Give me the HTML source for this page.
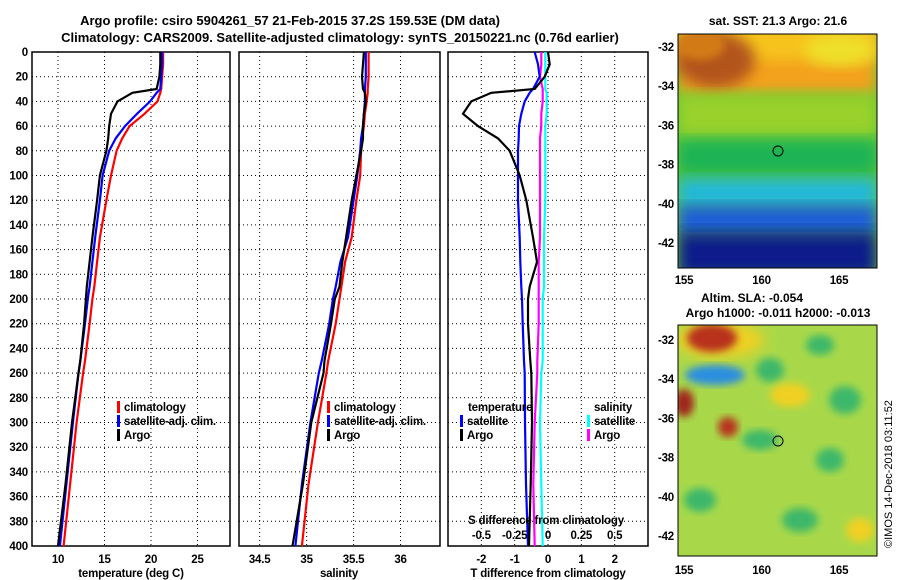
<!DOCTYPE html>
<html><head><meta charset="utf-8">
<style>
body{margin:0;background:#fff;}
svg{display:block;font-family:"Liberation Sans",sans-serif;font-weight:bold;}
</style></head>
<body>
<svg id="fig" width="900" height="580" viewBox="0 0 900 580">
<defs>
<filter id="bl" x="-20%" y="-20%" width="140%" height="140%"><feGaussianBlur stdDeviation="7"/></filter>
<filter id="bl2" x="-20%" y="-20%" width="140%" height="140%"><feGaussianBlur stdDeviation="4"/></filter>
<clipPath id="c1"><rect x="678" y="34" width="199" height="234"/></clipPath>
<clipPath id="c2"><rect x="678" y="325" width="199" height="231"/></clipPath>
</defs>
<text x="290" y="25" font-size="13" text-anchor="middle">Argo profile: csiro 5904261_57 21-Feb-2015 37.2S 159.53E (DM data)</text>
<text x="340" y="42" font-size="13" text-anchor="middle">Climatology: CARS2009. Satellite-adjusted climatology: synTS_20150221.nc (0.76d earlier)</text>
<g id="plots"></g>
<g clip-path="url(#c1)">
<rect x="678" y="34" width="199" height="234" fill="#5fc83a"/>
<rect x="678" y="34" width="199" height="60" fill="#f3a21d" filter="url(#bl)"/>
<rect x="678" y="20" width="199" height="40" fill="#f6c31a" filter="url(#bl)"/>
<ellipse cx="715" cy="60" rx="40" ry="28" fill="#b2551a" filter="url(#bl)"/>
<ellipse cx="700" cy="45" rx="25" ry="15" fill="#d27a18" filter="url(#bl2)"/>
<ellipse cx="840" cy="50" rx="35" ry="16" fill="#eee02a" filter="url(#bl)"/>
<rect x="678" y="95" width="199" height="40" fill="#9ad12a" filter="url(#bl)"/>
<rect x="678" y="140" width="199" height="35" fill="#1fb455" filter="url(#bl)"/>
<rect x="678" y="178" width="199" height="30" fill="#20b8d8" filter="url(#bl)"/>
<rect x="678" y="205" width="199" height="30" fill="#1a5fd8" filter="url(#bl)"/>
<rect x="678" y="232" width="199" height="45" fill="#0b1f8a" filter="url(#bl)"/>
<circle cx="778" cy="151" r="5" fill="none" stroke="#000" stroke-width="1"/>
</g>
<rect x="678" y="34" width="199" height="234" fill="none" stroke="#000"/>
<g clip-path="url(#c2)">
<rect x="678" y="325" width="199" height="231" fill="#a8d84a"/>
<ellipse cx="720" cy="340" rx="45" ry="18" fill="#f0d020" filter="url(#bl)"/>
<ellipse cx="712" cy="338" rx="25" ry="14" fill="#b8301a" filter="url(#bl2)"/>
<ellipse cx="715" cy="375" rx="30" ry="10" fill="#2a8ee0" filter="url(#bl2)"/>
<ellipse cx="684" cy="403" rx="10" ry="14" fill="#a0281a" filter="url(#bl2)"/>
<ellipse cx="728" cy="427" rx="10" ry="10" fill="#b8301a" filter="url(#bl2)"/>
<ellipse cx="770" cy="370" rx="14" ry="12" fill="#3cb86a" filter="url(#bl2)"/>
<ellipse cx="820" cy="345" rx="14" ry="10" fill="#3cb86a" filter="url(#bl2)"/>
<ellipse cx="845" cy="400" rx="16" ry="14" fill="#3cb86a" filter="url(#bl2)"/>
<ellipse cx="760" cy="440" rx="18" ry="10" fill="#3cb86a" filter="url(#bl2)"/>
<ellipse cx="830" cy="460" rx="14" ry="12" fill="#3cb86a" filter="url(#bl2)"/>
<ellipse cx="700" cy="500" rx="16" ry="12" fill="#3cb86a" filter="url(#bl2)"/>
<ellipse cx="800" cy="520" rx="18" ry="12" fill="#3cb86a" filter="url(#bl2)"/>
<ellipse cx="860" cy="530" rx="14" ry="12" fill="#f0d020" filter="url(#bl2)"/>
<ellipse cx="790" cy="395" rx="20" ry="12" fill="#f0d020" filter="url(#bl2)"/>
<circle cx="778" cy="441" r="5" fill="none" stroke="#000" stroke-width="1"/>
</g>
<rect x="678" y="325" width="199" height="231" fill="none" stroke="#000"/>
<text x="778" y="25" font-size="12" text-anchor="middle">sat. SST: 21.3 Argo: 21.6</text>
<text x="752" y="302" font-size="12" text-anchor="middle">Altim. SLA: -0.054</text>
<text x="778" y="317" font-size="12" text-anchor="middle">Argo h1000: -0.011 h2000: -0.013</text>
<text transform="translate(892,548) rotate(-90)" font-size="11" font-weight="normal">©IMOS 14-Dec-2018 03:11:52</text>
<g id="mapaxes"></g>
</svg>
<script>
const depths=[0,10,20,30,33,40,50,60,70,80,100,120,150,170,190,200,220,250,260,300,350,400];
const tClim=[21.3,21.3,21.2,21.1,21.0,20.7,19.3,17.7,16.9,16.3,15.7,15.2,14.5,14.2,13.9,13.7,13.4,12.9,12.7,12.0,11.3,10.6];
const tSat=[21.2,21.2,21.1,21.0,20.6,19.9,18.5,17.2,16.2,15.5,14.8,14.5,14.0,13.7,13.4,13.2,12.9,12.4,12.2,11.6,10.9,10.2];
const tArgo=[21.0,21.0,20.9,20.6,18.0,16.4,15.7,15.5,15.4,15.2,14.5,14.2,13.7,13.4,13.1,13.0,12.8,12.4,12.2,11.5,10.8,10.0];
const sClim=[35.66,35.66,35.66,35.65,35.65,35.64,35.62,35.61,35.59,35.58,35.57,35.53,35.48,35.41,35.37,35.35,35.31,35.23,35.21,35.12,35.02,34.95];
const sSat=[35.63,35.63,35.63,35.62,35.62,35.62,35.61,35.6,35.58,35.57,35.54,35.5,35.44,35.36,35.31,35.28,35.24,35.16,35.13,35.04,34.95,34.88];
const sArgo=[35.61,35.6,35.59,35.6,35.62,35.63,35.61,35.6,35.6,35.58,35.53,35.48,35.42,35.38,35.35,35.3,35.26,35.19,35.18,35.05,34.96,34.85];
const dT=[0.0,0.05,-0.1,-0.4,-1.7,-2.3,-2.55,-2.1,-1.5,-1.15,-0.85,-0.65,-0.45,-0.33,-0.55,-0.6,-0.6,-0.53,-0.5,-0.48,-0.52,-0.57];
const dTsat=[-0.4,-0.3,-0.25,-0.45,-0.55,-0.7,-0.8,-0.87,-0.88,-0.9,-0.9,-0.9,-0.85,-0.83,-0.8,-0.78,-0.76,-0.72,-0.7,-0.69,-0.66,-0.6];
const dSArgo=[-0.05,-0.05,-0.06,-0.04,-0.04,-0.04,-0.05,-0.05,-0.06,-0.06,-0.06,-0.06,-0.06,-0.07,-0.07,-0.07,-0.07,-0.08,-0.08,-0.1,-0.11,-0.1];
const dSSat=[-0.02,-0.02,-0.02,-0.02,-0.01,-0.01,-0.01,-0.02,-0.02,-0.02,-0.02,-0.02,-0.03,-0.03,-0.03,-0.04,-0.04,-0.04,-0.05,-0.06,-0.05,-0.04];
const depthTicks=[0,20,40,60,80,100,120,140,160,180,200,220,240,260,280,300,320,340,360,380,400];
const tTicks=[10,15,20,25];
const sTicks=[34.5,35,35.5,36];
const dTTicks=[-2,-1,0,1,2];
const dSTicks=[-0.5,-0.25,0,0.25,0.5];
const latTicks=[-32,-34,-36,-38,-40,-42];
const lonTicks=[155,160,165];

const NS='http://www.w3.org/2000/svg';
const g=document.getElementById('plots');
const Y0=52,Y1=546;
const yS=d=>Y0+(Y1-Y0)*d/400;
function el(tag,attrs,parent,txt){const e=document.createElementNS(NS,tag);for(const k in attrs)e.setAttribute(k,attrs[k]);if(txt!==undefined)e.textContent=txt;(parent||g).appendChild(e);return e;}
function panel(x0,x1,vmin,vmax,ticks,name){
  const xs=v=>x0+(x1-x0)*(v-vmin)/(vmax-vmin);
  const grp=el('g',{});
  
  
  depthTicks.forEach(d=>{if(d>0&&d<400){const l=el('line',{x1:x0,x2:x1,y1:yS(d),y2:yS(d),stroke:'#000','stroke-width':1,'stroke-dasharray':'1,3'},grp);}});
  ticks.forEach(v=>{const l=el('line',{x1:xs(v),x2:xs(v),y1:Y0,y2:Y1,stroke:'#000','stroke-width':1,'stroke-dasharray':'1,3'},grp);});
  const r=el('rect',{x:x0,y:Y0,width:x1-x0,height:Y1-Y0,fill:'none',stroke:'#000','stroke-width':1.5},grp);
  
  return {xs,grp};
}
function series(p,vals,color,name){
  const pts=vals.map((v,i)=>p.xs(v).toFixed(1)+','+yS(depths[i]).toFixed(1)).join(' ');
  const pl=el('polyline',{points:pts,fill:'none',stroke:color,'stroke-width':2.2},p.grp);
  
  
}
function txt(x,y,s,opts,name,parent){const t=el('text',Object.assign({x:x,y:y,'font-size':11.5,'letter-spacing':'-0.2'},opts||{}),parent,s);return t;}
function legend(x,y,items,parent){items.forEach((it,i)=>{const r=el('rect',{x:x,y:y+i*14-10,width:3,height:12,fill:it[1]},parent);txt(x+7,y+i*14,it[0],{},'legend-entry',parent);});}

const p1=panel(32,230,7.2,28.5,tTicks,'temperature-panel');
series(p1,tClim,'#ff0000','temperature-climatology-line');
series(p1,tSat,'#0000ff','temperature-satellite-line');
series(p1,tArgo,'#000000','temperature-argo-line');
tTicks.forEach(v=>txt(p1.xs(v),563,String(v),{'text-anchor':'middle'},'x-tick-label',p1.grp));
depthTicks.forEach(d=>txt(28,yS(d)+4,String(d),{'text-anchor':'end'},'y-tick-label',p1.grp));
txt(131,577,'temperature (deg C)',{'text-anchor':'middle'},'x-axis-title',p1.grp);
legend(117,411,[['climatology','#ff0000'],['satellite-adj. clim.','#0000ff'],['Argo','#000000']],p1.grp);

const p2=panel(239,440,34.28,36.42,sTicks,'salinity-panel');
series(p2,sClim,'#ff0000','salinity-climatology-line');
series(p2,sSat,'#0000ff','salinity-satellite-line');
series(p2,sArgo,'#000000','salinity-argo-line');
sTicks.forEach(v=>txt(p2.xs(v),563,String(v),{'text-anchor':'middle'},'x-tick-label',p2.grp));
txt(339,577,'salinity',{'text-anchor':'middle'},'x-axis-title',p2.grp);
legend(327,411,[['climatology','#ff0000'],['satellite-adj. clim.','#0000ff'],['Argo','#000000']],p2.grp);

const p3=panel(448,648,-3,3,dTTicks,'difference-panel');
const xsS=v=>p3.xs(v*4);
const p3s={xs:xsS,grp:p3.grp};
series(p3s,dSSat,'#00ffff','salinity-satellite-diff-line');
series(p3s,dSArgo,'#ff00ff','salinity-argo-diff-line');
series(p3,dTsat,'#0000ff','temperature-satellite-diff-line');
series(p3,dT,'#000000','temperature-argo-diff-line');
dTTicks.forEach(v=>txt(p3.xs(v),563,String(v),{'text-anchor':'middle'},'x-tick-label',p3.grp));
dSTicks.forEach(v=>txt(xsS(v),539,String(v),{'text-anchor':'middle'},'s-tick-label',p3.grp));
txt(548,577,'T difference from climatology',{'text-anchor':'middle'},'x-axis-title',p3.grp);
txt(546,524,'S difference from climatology',{'text-anchor':'middle'},'s-axis-title',p3.grp);
txt(468,411,'temperature',{},'legend-title',p3.grp);
txt(594,411,'salinity',{},'legend-title',p3.grp);
legend(460,425,[['satellite','#0000ff'],['Argo','#000000']],p3.grp);
legend(587,425,[['satellite','#00ffff'],['Argo','#ff00ff']],p3.grp);

const ma=document.getElementById('mapaxes');
const lonX=lon=>684+(lon-155)*15.5;
latTicks.forEach(l=>{
  txt(674,47+(-32-l)*19.6+4,String(l),{'text-anchor':'end'},'lat-tick-label',ma);
  txt(674,340+(-32-l)*19.6+4,String(l),{'text-anchor':'end'},'lat-tick-label',ma);
});
lonTicks.forEach(l=>{
  txt(lonX(l),284,String(l),{'text-anchor':'middle'},'lon-tick-label',ma);
  txt(lonX(l),574,String(l),{'text-anchor':'middle'},'lon-tick-label',ma);
});
</script>
</body></html>
